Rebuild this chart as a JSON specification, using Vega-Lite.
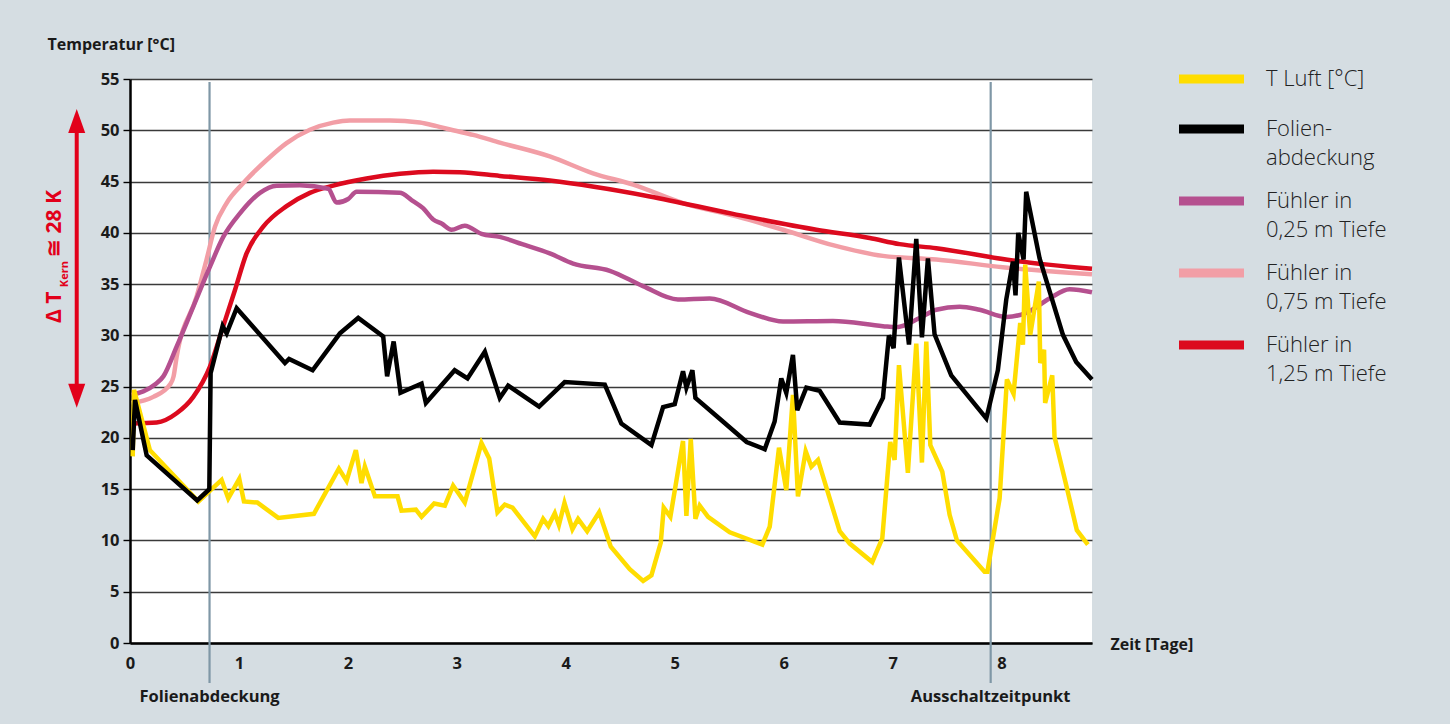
{
  "$schema": "https://vega.github.io/schema/vega-lite/v6.json",
  "width": 962,
  "height": 564,
  "autosize": {"type": "none"},
  "padding": {"left": 130, "top": 79, "right": 358, "bottom": 81},
  "background": "#d5dde2",
  "config": {
    "view": {"fill": "white", "stroke": null},
    "font": "Open Sans",
    "axisY": {
      "domainColor": "#000000", "domainWidth": 2.5,
      "tickColor": "#000000", "tickSize": 7, "tickWidth": 1.4,
      "grid": true, "gridColor": "#3a3a3a", "gridWidth": 1.3,
      "labelFont": "Open Sans", "labelFontWeight": "bold", "labelFontSize": 16.5, "labelColor": "#1a1a1a", "labelPadding": 4,
      "titleFont": "Open Sans", "titleFontWeight": "bold", "titleFontSize": 16, "titleColor": "#1a1a1a"
    },
    "axisX": {
      "domainColor": "#000000", "domainWidth": 2.5, "ticks": false, "grid": false, "format": "d",
      "labelFont": "Open Sans", "labelFontWeight": "bold", "labelFontSize": 16.5, "labelColor": "#1a1a1a", "labelPadding": 12,
      "titleFont": "Open Sans", "titleFontWeight": "bold", "titleFontSize": 16, "titleColor": "#1a1a1a"
    }
  },
  "datasets": {
    "events": [
      {"Tag": 0.73, "Ereignis": "Folienabdeckung"},
      {"Tag": 7.9, "Ereignis": "Ausschaltzeitpunkt"}
    ],
    "anno": [{"Text": "Δ T Kern ≅ 28 K"}],
    "temps": [
      {"Reihe": "T Luft [°C]", "Tag": 0.025, "Temp": 18.2},
      {"Reihe": "T Luft [°C]", "Tag": 0.037, "Temp": 24.7},
      {"Reihe": "T Luft [°C]", "Tag": 0.183, "Temp": 18.8},
      {"Reihe": "T Luft [°C]", "Tag": 0.627, "Temp": 13.8},
      {"Reihe": "T Luft [°C]", "Tag": 0.841, "Temp": 15.9},
      {"Reihe": "T Luft [°C]", "Tag": 0.902, "Temp": 14.1},
      {"Reihe": "T Luft [°C]", "Tag": 1.003, "Temp": 16.0},
      {"Reihe": "T Luft [°C]", "Tag": 1.046, "Temp": 13.8},
      {"Reihe": "T Luft [°C]", "Tag": 1.168, "Temp": 13.7},
      {"Reihe": "T Luft [°C]", "Tag": 1.361, "Temp": 12.2},
      {"Reihe": "T Luft [°C]", "Tag": 1.688, "Temp": 12.6},
      {"Reihe": "T Luft [°C]", "Tag": 1.917, "Temp": 17.0},
      {"Reihe": "T Luft [°C]", "Tag": 1.988, "Temp": 15.8},
      {"Reihe": "T Luft [°C]", "Tag": 2.073, "Temp": 18.8},
      {"Reihe": "T Luft [°C]", "Tag": 2.125, "Temp": 15.6},
      {"Reihe": "T Luft [°C]", "Tag": 2.156, "Temp": 17.2},
      {"Reihe": "T Luft [°C]", "Tag": 2.248, "Temp": 14.3},
      {"Reihe": "T Luft [°C]", "Tag": 2.456, "Temp": 14.3},
      {"Reihe": "T Luft [°C]", "Tag": 2.492, "Temp": 12.9},
      {"Reihe": "T Luft [°C]", "Tag": 2.624, "Temp": 13.0},
      {"Reihe": "T Luft [°C]", "Tag": 2.676, "Temp": 12.3},
      {"Reihe": "T Luft [°C]", "Tag": 2.792, "Temp": 13.6},
      {"Reihe": "T Luft [°C]", "Tag": 2.89, "Temp": 13.4},
      {"Reihe": "T Luft [°C]", "Tag": 2.966, "Temp": 15.35},
      {"Reihe": "T Luft [°C]", "Tag": 3.073, "Temp": 13.7},
      {"Reihe": "T Luft [°C]", "Tag": 3.226, "Temp": 19.5},
      {"Reihe": "T Luft [°C]", "Tag": 3.297, "Temp": 18.0},
      {"Reihe": "T Luft [°C]", "Tag": 3.373, "Temp": 12.75},
      {"Reihe": "T Luft [°C]", "Tag": 3.44, "Temp": 13.5},
      {"Reihe": "T Luft [°C]", "Tag": 3.511, "Temp": 13.2},
      {"Reihe": "T Luft [°C]", "Tag": 3.716, "Temp": 10.4},
      {"Reihe": "T Luft [°C]", "Tag": 3.792, "Temp": 12.1},
      {"Reihe": "T Luft [°C]", "Tag": 3.84, "Temp": 11.4},
      {"Reihe": "T Luft [°C]", "Tag": 3.899, "Temp": 12.65},
      {"Reihe": "T Luft [°C]", "Tag": 3.937, "Temp": 11.5},
      {"Reihe": "T Luft [°C]", "Tag": 3.988, "Temp": 13.65},
      {"Reihe": "T Luft [°C]", "Tag": 4.061, "Temp": 11.1},
      {"Reihe": "T Luft [°C]", "Tag": 4.113, "Temp": 12.1},
      {"Reihe": "T Luft [°C]", "Tag": 4.196, "Temp": 10.9},
      {"Reihe": "T Luft [°C]", "Tag": 4.306, "Temp": 12.75},
      {"Reihe": "T Luft [°C]", "Tag": 4.413, "Temp": 9.4},
      {"Reihe": "T Luft [°C]", "Tag": 4.587, "Temp": 7.2},
      {"Reihe": "T Luft [°C]", "Tag": 4.71, "Temp": 6.05},
      {"Reihe": "T Luft [°C]", "Tag": 4.786, "Temp": 6.6},
      {"Reihe": "T Luft [°C]", "Tag": 4.872, "Temp": 9.8},
      {"Reihe": "T Luft [°C]", "Tag": 4.899, "Temp": 13.2},
      {"Reihe": "T Luft [°C]", "Tag": 4.96, "Temp": 12.3},
      {"Reihe": "T Luft [°C]", "Tag": 5.076, "Temp": 19.7},
      {"Reihe": "T Luft [°C]", "Tag": 5.107, "Temp": 12.4},
      {"Reihe": "T Luft [°C]", "Tag": 5.147, "Temp": 19.9},
      {"Reihe": "T Luft [°C]", "Tag": 5.19, "Temp": 12.1},
      {"Reihe": "T Luft [°C]", "Tag": 5.229, "Temp": 13.4},
      {"Reihe": "T Luft [°C]", "Tag": 5.306, "Temp": 12.3},
      {"Reihe": "T Luft [°C]", "Tag": 5.505, "Temp": 10.8},
      {"Reihe": "T Luft [°C]", "Tag": 5.804, "Temp": 9.6},
      {"Reihe": "T Luft [°C]", "Tag": 5.872, "Temp": 11.35},
      {"Reihe": "T Luft [°C]", "Tag": 5.957, "Temp": 19.05},
      {"Reihe": "T Luft [°C]", "Tag": 6.024, "Temp": 14.9},
      {"Reihe": "T Luft [°C]", "Tag": 6.085, "Temp": 24.2},
      {"Reihe": "T Luft [°C]", "Tag": 6.131, "Temp": 14.3},
      {"Reihe": "T Luft [°C]", "Tag": 6.202, "Temp": 18.7},
      {"Reihe": "T Luft [°C]", "Tag": 6.254, "Temp": 17.2},
      {"Reihe": "T Luft [°C]", "Tag": 6.315, "Temp": 17.85},
      {"Reihe": "T Luft [°C]", "Tag": 6.514, "Temp": 10.9},
      {"Reihe": "T Luft [°C]", "Tag": 6.606, "Temp": 9.7},
      {"Reihe": "T Luft [°C]", "Tag": 6.813, "Temp": 7.9},
      {"Reihe": "T Luft [°C]", "Tag": 6.905, "Temp": 10.2},
      {"Reihe": "T Luft [°C]", "Tag": 6.978, "Temp": 19.6},
      {"Reihe": "T Luft [°C]", "Tag": 7.018, "Temp": 17.85},
      {"Reihe": "T Luft [°C]", "Tag": 7.058, "Temp": 27.1},
      {"Reihe": "T Luft [°C]", "Tag": 7.14, "Temp": 16.6},
      {"Reihe": "T Luft [°C]", "Tag": 7.217, "Temp": 29.2},
      {"Reihe": "T Luft [°C]", "Tag": 7.269, "Temp": 17.6},
      {"Reihe": "T Luft [°C]", "Tag": 7.309, "Temp": 29.4},
      {"Reihe": "T Luft [°C]", "Tag": 7.346, "Temp": 19.3},
      {"Reihe": "T Luft [°C]", "Tag": 7.456, "Temp": 16.7},
      {"Reihe": "T Luft [°C]", "Tag": 7.523, "Temp": 12.5},
      {"Reihe": "T Luft [°C]", "Tag": 7.59, "Temp": 10.0},
      {"Reihe": "T Luft [°C]", "Tag": 7.844, "Temp": 6.95},
      {"Reihe": "T Luft [°C]", "Tag": 7.87, "Temp": 6.95},
      {"Reihe": "T Luft [°C]", "Tag": 7.982, "Temp": 14.1},
      {"Reihe": "T Luft [°C]", "Tag": 8.049, "Temp": 25.7},
      {"Reihe": "T Luft [°C]", "Tag": 8.11, "Temp": 24.3},
      {"Reihe": "T Luft [°C]", "Tag": 8.171, "Temp": 31.2},
      {"Reihe": "T Luft [°C]", "Tag": 8.196, "Temp": 29.1},
      {"Reihe": "T Luft [°C]", "Tag": 8.217, "Temp": 36.9},
      {"Reihe": "T Luft [°C]", "Tag": 8.263, "Temp": 30.05},
      {"Reihe": "T Luft [°C]", "Tag": 8.342, "Temp": 35.25},
      {"Reihe": "T Luft [°C]", "Tag": 8.355, "Temp": 27.3},
      {"Reihe": "T Luft [°C]", "Tag": 8.39, "Temp": 28.6},
      {"Reihe": "T Luft [°C]", "Tag": 8.40, "Temp": 23.4},
      {"Reihe": "T Luft [°C]", "Tag": 8.465, "Temp": 26.1},
      {"Reihe": "T Luft [°C]", "Tag": 8.486, "Temp": 20.1},
      {"Reihe": "T Luft [°C]", "Tag": 8.593, "Temp": 15.4},
      {"Reihe": "T Luft [°C]", "Tag": 8.691, "Temp": 11.0},
      {"Reihe": "T Luft [°C]", "Tag": 8.792, "Temp": 9.6},

      {"Reihe": "Folienabdeckung", "Tag": 0.025, "Temp": 18.8},
      {"Reihe": "Folienabdeckung", "Tag": 0.046, "Temp": 23.7},
      {"Reihe": "Folienabdeckung", "Tag": 0.153, "Temp": 18.3},
      {"Reihe": "Folienabdeckung", "Tag": 0.617, "Temp": 13.9},
      {"Reihe": "Folienabdeckung", "Tag": 0.728, "Temp": 15.0},
      {"Reihe": "Folienabdeckung", "Tag": 0.74, "Temp": 26.3},
      {"Reihe": "Folienabdeckung", "Tag": 0.85, "Temp": 30.9},
      {"Reihe": "Folienabdeckung", "Tag": 0.887, "Temp": 30.2},
      {"Reihe": "Folienabdeckung", "Tag": 0.979, "Temp": 32.65},
      {"Reihe": "Folienabdeckung", "Tag": 1.422, "Temp": 27.3},
      {"Reihe": "Folienabdeckung", "Tag": 1.46, "Temp": 27.7},
      {"Reihe": "Folienabdeckung", "Tag": 1.676, "Temp": 26.6},
      {"Reihe": "Folienabdeckung", "Tag": 1.927, "Temp": 30.2},
      {"Reihe": "Folienabdeckung", "Tag": 2.095, "Temp": 31.7},
      {"Reihe": "Folienabdeckung", "Tag": 2.324, "Temp": 29.9},
      {"Reihe": "Folienabdeckung", "Tag": 2.36, "Temp": 26.0},
      {"Reihe": "Folienabdeckung", "Tag": 2.42, "Temp": 29.4},
      {"Reihe": "Folienabdeckung", "Tag": 2.483, "Temp": 24.4},
      {"Reihe": "Folienabdeckung", "Tag": 2.676, "Temp": 25.3},
      {"Reihe": "Folienabdeckung", "Tag": 2.716, "Temp": 23.4},
      {"Reihe": "Folienabdeckung", "Tag": 2.98, "Temp": 26.6},
      {"Reihe": "Folienabdeckung", "Tag": 3.098, "Temp": 25.8},
      {"Reihe": "Folienabdeckung", "Tag": 3.257, "Temp": 28.4},
      {"Reihe": "Folienabdeckung", "Tag": 3.394, "Temp": 23.9},
      {"Reihe": "Folienabdeckung", "Tag": 3.471, "Temp": 25.1},
      {"Reihe": "Folienabdeckung", "Tag": 3.755, "Temp": 23.05},
      {"Reihe": "Folienabdeckung", "Tag": 3.99, "Temp": 25.45},
      {"Reihe": "Folienabdeckung", "Tag": 4.358, "Temp": 25.2},
      {"Reihe": "Folienabdeckung", "Tag": 4.51, "Temp": 21.4},
      {"Reihe": "Folienabdeckung", "Tag": 4.786, "Temp": 19.3},
      {"Reihe": "Folienabdeckung", "Tag": 4.893, "Temp": 23.0},
      {"Reihe": "Folienabdeckung", "Tag": 5.0, "Temp": 23.3},
      {"Reihe": "Folienabdeckung", "Tag": 5.076, "Temp": 26.5},
      {"Reihe": "Folienabdeckung", "Tag": 5.107, "Temp": 24.9},
      {"Reihe": "Folienabdeckung", "Tag": 5.162, "Temp": 26.6},
      {"Reihe": "Folienabdeckung", "Tag": 5.19, "Temp": 23.9},
      {"Reihe": "Folienabdeckung", "Tag": 5.41, "Temp": 21.9},
      {"Reihe": "Folienabdeckung", "Tag": 5.66, "Temp": 19.6},
      {"Reihe": "Folienabdeckung", "Tag": 5.826, "Temp": 18.9},
      {"Reihe": "Folienabdeckung", "Tag": 5.917, "Temp": 21.6},
      {"Reihe": "Folienabdeckung", "Tag": 5.978, "Temp": 25.8},
      {"Reihe": "Folienabdeckung", "Tag": 6.024, "Temp": 24.4},
      {"Reihe": "Folienabdeckung", "Tag": 6.085, "Temp": 28.1},
      {"Reihe": "Folienabdeckung", "Tag": 6.125, "Temp": 22.7},
      {"Reihe": "Folienabdeckung", "Tag": 6.208, "Temp": 24.9},
      {"Reihe": "Folienabdeckung", "Tag": 6.33, "Temp": 24.6},
      {"Reihe": "Folienabdeckung", "Tag": 6.514, "Temp": 21.5},
      {"Reihe": "Folienabdeckung", "Tag": 6.789, "Temp": 21.3},
      {"Reihe": "Folienabdeckung", "Tag": 6.911, "Temp": 23.9},
      {"Reihe": "Folienabdeckung", "Tag": 6.966, "Temp": 30.0},
      {"Reihe": "Folienabdeckung", "Tag": 7.009, "Temp": 28.75},
      {"Reihe": "Folienabdeckung", "Tag": 7.058, "Temp": 37.6},
      {"Reihe": "Folienabdeckung", "Tag": 7.15, "Temp": 29.1},
      {"Reihe": "Folienabdeckung", "Tag": 7.217, "Temp": 39.4},
      {"Reihe": "Folienabdeckung", "Tag": 7.269, "Temp": 29.8},
      {"Reihe": "Folienabdeckung", "Tag": 7.324, "Temp": 37.5},
      {"Reihe": "Folienabdeckung", "Tag": 7.385, "Temp": 30.1},
      {"Reihe": "Folienabdeckung", "Tag": 7.538, "Temp": 26.1},
      {"Reihe": "Folienabdeckung", "Tag": 7.86, "Temp": 21.9},
      {"Reihe": "Folienabdeckung", "Tag": 7.966, "Temp": 26.6},
      {"Reihe": "Folienabdeckung", "Tag": 8.043, "Temp": 33.5},
      {"Reihe": "Folienabdeckung", "Tag": 8.104, "Temp": 37.2},
      {"Reihe": "Folienabdeckung", "Tag": 8.128, "Temp": 33.9},
      {"Reihe": "Folienabdeckung", "Tag": 8.153, "Temp": 40.0},
      {"Reihe": "Folienabdeckung", "Tag": 8.202, "Temp": 37.4},
      {"Reihe": "Folienabdeckung", "Tag": 8.226, "Temp": 44.0},
      {"Reihe": "Folienabdeckung", "Tag": 8.349, "Temp": 37.5},
      {"Reihe": "Folienabdeckung", "Tag": 8.563, "Temp": 30.05},
      {"Reihe": "Folienabdeckung", "Tag": 8.685, "Temp": 27.4},
      {"Reihe": "Folienabdeckung", "Tag": 8.83, "Temp": 25.7},

      {"Reihe": "Fühler in 0,25 m Tiefe", "Tag": 0.015, "Temp": 24.2},
      {"Reihe": "Fühler in 0,25 m Tiefe", "Tag": 0.229, "Temp": 25.2},
      {"Reihe": "Fühler in 0,25 m Tiefe", "Tag": 0.306, "Temp": 26.0},
      {"Reihe": "Fühler in 0,25 m Tiefe", "Tag": 0.428, "Temp": 28.9},
      {"Reihe": "Fühler in 0,25 m Tiefe", "Tag": 0.581, "Temp": 32.8},
      {"Reihe": "Fühler in 0,25 m Tiefe", "Tag": 0.734, "Temp": 36.7},
      {"Reihe": "Fühler in 0,25 m Tiefe", "Tag": 0.856, "Temp": 39.6},
      {"Reihe": "Fühler in 0,25 m Tiefe", "Tag": 1.009, "Temp": 41.9},
      {"Reihe": "Fühler in 0,25 m Tiefe", "Tag": 1.193, "Temp": 43.9},
      {"Reihe": "Fühler in 0,25 m Tiefe", "Tag": 1.346, "Temp": 44.6},
      {"Reihe": "Fühler in 0,25 m Tiefe", "Tag": 1.56, "Temp": 44.65},
      {"Reihe": "Fühler in 0,25 m Tiefe", "Tag": 1.82, "Temp": 44.3},
      {"Reihe": "Fühler in 0,25 m Tiefe", "Tag": 1.896, "Temp": 42.95},
      {"Reihe": "Fühler in 0,25 m Tiefe", "Tag": 2.003, "Temp": 43.3},
      {"Reihe": "Fühler in 0,25 m Tiefe", "Tag": 2.08, "Temp": 44.0},
      {"Reihe": "Fühler in 0,25 m Tiefe", "Tag": 2.477, "Temp": 43.9},
      {"Reihe": "Fühler in 0,25 m Tiefe", "Tag": 2.584, "Temp": 43.2},
      {"Reihe": "Fühler in 0,25 m Tiefe", "Tag": 2.69, "Temp": 42.4},
      {"Reihe": "Fühler in 0,25 m Tiefe", "Tag": 2.783, "Temp": 41.3},
      {"Reihe": "Fühler in 0,25 m Tiefe", "Tag": 2.86, "Temp": 40.9},
      {"Reihe": "Fühler in 0,25 m Tiefe", "Tag": 2.951, "Temp": 40.3},
      {"Reihe": "Fühler in 0,25 m Tiefe", "Tag": 3.073, "Temp": 40.7},
      {"Reihe": "Fühler in 0,25 m Tiefe", "Tag": 3.226, "Temp": 39.9},
      {"Reihe": "Fühler in 0,25 m Tiefe", "Tag": 3.394, "Temp": 39.6},
      {"Reihe": "Fühler in 0,25 m Tiefe", "Tag": 3.6, "Temp": 38.9},
      {"Reihe": "Fühler in 0,25 m Tiefe", "Tag": 3.853, "Temp": 38.0},
      {"Reihe": "Fühler in 0,25 m Tiefe", "Tag": 4.067, "Temp": 37.0},
      {"Reihe": "Fühler in 0,25 m Tiefe", "Tag": 4.404, "Temp": 36.3},
      {"Reihe": "Fühler in 0,25 m Tiefe", "Tag": 4.709, "Temp": 34.8},
      {"Reihe": "Fühler in 0,25 m Tiefe", "Tag": 5.03, "Temp": 33.5},
      {"Reihe": "Fühler in 0,25 m Tiefe", "Tag": 5.321, "Temp": 33.6},
      {"Reihe": "Fühler in 0,25 m Tiefe", "Tag": 5.688, "Temp": 32.2},
      {"Reihe": "Fühler in 0,25 m Tiefe", "Tag": 5.994, "Temp": 31.35},
      {"Reihe": "Fühler in 0,25 m Tiefe", "Tag": 6.452, "Temp": 31.4},
      {"Reihe": "Fühler in 0,25 m Tiefe", "Tag": 6.911, "Temp": 30.9},
      {"Reihe": "Fühler in 0,25 m Tiefe", "Tag": 7.034, "Temp": 30.8},
      {"Reihe": "Fühler in 0,25 m Tiefe", "Tag": 7.248, "Temp": 31.7},
      {"Reihe": "Fühler in 0,25 m Tiefe", "Tag": 7.4, "Temp": 32.5},
      {"Reihe": "Fühler in 0,25 m Tiefe", "Tag": 7.615, "Temp": 32.8},
      {"Reihe": "Fühler in 0,25 m Tiefe", "Tag": 7.798, "Temp": 32.5},
      {"Reihe": "Fühler in 0,25 m Tiefe", "Tag": 8.043, "Temp": 31.8},
      {"Reihe": "Fühler in 0,25 m Tiefe", "Tag": 8.226, "Temp": 32.2},
      {"Reihe": "Fühler in 0,25 m Tiefe", "Tag": 8.44, "Temp": 33.6},
      {"Reihe": "Fühler in 0,25 m Tiefe", "Tag": 8.624, "Temp": 34.5},
      {"Reihe": "Fühler in 0,25 m Tiefe", "Tag": 8.83, "Temp": 34.2},

      {"Reihe": "Fühler in 0,75 m Tiefe", "Tag": 0.015, "Temp": 23.4},
      {"Reihe": "Fühler in 0,75 m Tiefe", "Tag": 0.214, "Temp": 24.0},
      {"Reihe": "Fühler in 0,75 m Tiefe", "Tag": 0.367, "Temp": 25.2},
      {"Reihe": "Fühler in 0,75 m Tiefe", "Tag": 0.4, "Temp": 26.0},
      {"Reihe": "Fühler in 0,75 m Tiefe", "Tag": 0.428, "Temp": 27.9},
      {"Reihe": "Fühler in 0,75 m Tiefe", "Tag": 0.612, "Temp": 33.8},
      {"Reihe": "Fühler in 0,75 m Tiefe", "Tag": 0.703, "Temp": 37.4},
      {"Reihe": "Fühler in 0,75 m Tiefe", "Tag": 0.78, "Temp": 40.6},
      {"Reihe": "Fühler in 0,75 m Tiefe", "Tag": 0.887, "Temp": 42.9},
      {"Reihe": "Fühler in 0,75 m Tiefe", "Tag": 1.04, "Temp": 44.85},
      {"Reihe": "Fühler in 0,75 m Tiefe", "Tag": 1.254, "Temp": 47.1},
      {"Reihe": "Fühler in 0,75 m Tiefe", "Tag": 1.437, "Temp": 48.75},
      {"Reihe": "Fühler in 0,75 m Tiefe", "Tag": 1.651, "Temp": 50.05},
      {"Reihe": "Fühler in 0,75 m Tiefe", "Tag": 1.865, "Temp": 50.75},
      {"Reihe": "Fühler in 0,75 m Tiefe", "Tag": 2.018, "Temp": 50.95},
      {"Reihe": "Fühler in 0,75 m Tiefe", "Tag": 2.385, "Temp": 50.95},
      {"Reihe": "Fühler in 0,75 m Tiefe", "Tag": 2.66, "Temp": 50.75},
      {"Reihe": "Fühler in 0,75 m Tiefe", "Tag": 2.814, "Temp": 50.4},
      {"Reihe": "Fühler in 0,75 m Tiefe", "Tag": 2.966, "Temp": 50.0},
      {"Reihe": "Fühler in 0,75 m Tiefe", "Tag": 3.15, "Temp": 49.55},
      {"Reihe": "Fühler in 0,75 m Tiefe", "Tag": 3.394, "Temp": 48.8},
      {"Reihe": "Fühler in 0,75 m Tiefe", "Tag": 3.853, "Temp": 47.45},
      {"Reihe": "Fühler in 0,75 m Tiefe", "Tag": 4.25, "Temp": 45.8},
      {"Reihe": "Fühler in 0,75 m Tiefe", "Tag": 4.618, "Temp": 44.7},
      {"Reihe": "Fühler in 0,75 m Tiefe", "Tag": 5.076, "Temp": 42.9},
      {"Reihe": "Fühler in 0,75 m Tiefe", "Tag": 5.566, "Temp": 41.6},
      {"Reihe": "Fühler in 0,75 m Tiefe", "Tag": 5.994, "Temp": 40.3},
      {"Reihe": "Fühler in 0,75 m Tiefe", "Tag": 6.452, "Temp": 38.8},
      {"Reihe": "Fühler in 0,75 m Tiefe", "Tag": 6.911, "Temp": 37.75},
      {"Reihe": "Fühler in 0,75 m Tiefe", "Tag": 7.4, "Temp": 37.4},
      {"Reihe": "Fühler in 0,75 m Tiefe", "Tag": 8.01, "Temp": 36.65},
      {"Reihe": "Fühler in 0,75 m Tiefe", "Tag": 8.83, "Temp": 35.95},

      {"Reihe": "Fühler in 1,25 m Tiefe", "Tag": 0.015, "Temp": 21.4},
      {"Reihe": "Fühler in 1,25 m Tiefe", "Tag": 0.245, "Temp": 21.5},
      {"Reihe": "Fühler in 1,25 m Tiefe", "Tag": 0.428, "Temp": 22.4},
      {"Reihe": "Fühler in 1,25 m Tiefe", "Tag": 0.581, "Temp": 24.0},
      {"Reihe": "Fühler in 1,25 m Tiefe", "Tag": 0.734, "Temp": 26.95},
      {"Reihe": "Fühler in 1,25 m Tiefe", "Tag": 0.856, "Temp": 30.9},
      {"Reihe": "Fühler in 1,25 m Tiefe", "Tag": 0.963, "Temp": 34.4},
      {"Reihe": "Fühler in 1,25 m Tiefe", "Tag": 1.07, "Temp": 38.0},
      {"Reihe": "Fühler in 1,25 m Tiefe", "Tag": 1.223, "Temp": 40.6},
      {"Reihe": "Fühler in 1,25 m Tiefe", "Tag": 1.437, "Temp": 42.6},
      {"Reihe": "Fühler in 1,25 m Tiefe", "Tag": 1.651, "Temp": 43.9},
      {"Reihe": "Fühler in 1,25 m Tiefe", "Tag": 1.865, "Temp": 44.6},
      {"Reihe": "Fühler in 1,25 m Tiefe", "Tag": 2.171, "Temp": 45.3},
      {"Reihe": "Fühler in 1,25 m Tiefe", "Tag": 2.477, "Temp": 45.75},
      {"Reihe": "Fühler in 1,25 m Tiefe", "Tag": 2.783, "Temp": 45.95},
      {"Reihe": "Fühler in 1,25 m Tiefe", "Tag": 3.028, "Temp": 45.9},
      {"Reihe": "Fühler in 1,25 m Tiefe", "Tag": 3.394, "Temp": 45.55},
      {"Reihe": "Fühler in 1,25 m Tiefe", "Tag": 3.853, "Temp": 45.1},
      {"Reihe": "Fühler in 1,25 m Tiefe", "Tag": 4.771, "Temp": 43.55},
      {"Reihe": "Fühler in 1,25 m Tiefe", "Tag": 5.535, "Temp": 41.85},
      {"Reihe": "Fühler in 1,25 m Tiefe", "Tag": 6.3, "Temp": 40.3},
      {"Reihe": "Fühler in 1,25 m Tiefe", "Tag": 6.789, "Temp": 39.5},
      {"Reihe": "Fühler in 1,25 m Tiefe", "Tag": 7.064, "Temp": 38.9},
      {"Reihe": "Fühler in 1,25 m Tiefe", "Tag": 7.4, "Temp": 38.5},
      {"Reihe": "Fühler in 1,25 m Tiefe", "Tag": 8.104, "Temp": 37.3},
      {"Reihe": "Fühler in 1,25 m Tiefe", "Tag": 8.83, "Temp": 36.5}
    ]
  },
  "layer": [
    {
      "data": {"name": "events"},
      "mark": {"type": "rule", "color": "#7f97a6", "strokeWidth": 2.2},
      "encoding": {
        "x": {"field": "Tag", "type": "quantitative", "scale": {"domain": [0, 8.83], "nice": false, "zero": false},
              "axis": {"values": [0, 1, 2, 3, 4, 5, 6, 7, 8], "title": "Zeit [Tage]", "titleX": 980, "titleY": 1, "titleAlign": "left", "titleBaseline": "middle", "labelFlush": false}},
        "y": {"datum": 54.7, "type": "quantitative", "scale": {"domain": [0, 55], "nice": false},
              "axis": {"values": [0, 5, 10, 15, 20, 25, 30, 35, 40, 45, 50, 55], "title": "Temperatur [°C]", "titleAngle": 0, "titleX": -83, "titleY": -35, "titleAlign": "left", "titleBaseline": "middle"}},
        "y2": {"datum": -3.9}
      }
    },
    {
      "data": {"name": "temps"},
      "transform": [{"filter": "datum.Reihe == 'Fühler in 1,25 m Tiefe' || datum.Reihe == 'Fühler in 0,75 m Tiefe'"}],
      "mark": {"type": "line", "strokeWidth": 4.5, "interpolate": "monotone"},
      "encoding": {
        "x": {"field": "Tag", "type": "quantitative", "scale": {"domain": [0, 8.83], "nice": false, "zero": false},
              "axis": {"values": [0, 1, 2, 3, 4, 5, 6, 7, 8], "title": "Zeit [Tage]", "titleX": 980, "titleY": 1, "titleAlign": "left", "titleBaseline": "middle", "labelFlush": false}},
        "y": {"field": "Temp", "type": "quantitative", "scale": {"domain": [0, 55], "nice": false},
              "axis": {"values": [0, 5, 10, 15, 20, 25, 30, 35, 40, 45, 50, 55], "title": "Temperatur [°C]", "titleAngle": 0, "titleX": -83, "titleY": -35, "titleAlign": "left", "titleBaseline": "middle"}},
        "detail": {"field": "Reihe"},
        "color": {"field": "Reihe", "type": "nominal",
          "scale": {"domain": ["T Luft [°C]", "Folienabdeckung", "Fühler in 0,25 m Tiefe", "Fühler in 0,75 m Tiefe", "Fühler in 1,25 m Tiefe"],
                    "range": ["#ffdd00", "#000000", "#b5508f", "#f29ea6", "#dc0a1e"]},
          "legend": {
            "orient": "none", "legendX": 1048, "legendY": -11, "title": null,
            "symbolType": "M-2,0H11", "symbolSize": 100, "symbolStrokeWidth": 9,
            "labelFont": "Open Sans", "labelFontSize": 22, "labelFontWeight": 300, "labelColor": "#222222",
            "labelOffset": 66, "labelLimit": 300, "rowPadding": 14,
            "labelExpr": "datum.label == 'Folienabdeckung' ? ['Folien-', 'abdeckung'] : slice(datum.label, 0, 9) == 'Fühler in' ? ['Fühler in', slice(datum.label, 10)] : datum.label",
            "encode": {"labels": {"update": {"lineHeight": {"value": 29}}}}
          }}
      }
    },
    {
      "data": {"name": "temps"},
      "transform": [{"filter": "datum.Reihe == 'Fühler in 0,25 m Tiefe'"}],
      "mark": {"type": "line", "strokeWidth": 4.5, "interpolate": "monotone"},
      "encoding": {
        "x": {"field": "Tag", "type": "quantitative", "scale": {"domain": [0, 8.83], "nice": false, "zero": false},
              "axis": {"values": [0, 1, 2, 3, 4, 5, 6, 7, 8], "title": "Zeit [Tage]", "titleX": 980, "titleY": 1, "titleAlign": "left", "titleBaseline": "middle", "labelFlush": false}},
        "y": {"field": "Temp", "type": "quantitative", "scale": {"domain": [0, 55], "nice": false},
              "axis": {"values": [0, 5, 10, 15, 20, 25, 30, 35, 40, 45, 50, 55], "title": "Temperatur [°C]", "titleAngle": 0, "titleX": -83, "titleY": -35, "titleAlign": "left", "titleBaseline": "middle"}},
        "color": {"field": "Reihe", "type": "nominal", "legend": null,
          "scale": {"domain": ["T Luft [°C]", "Folienabdeckung", "Fühler in 0,25 m Tiefe", "Fühler in 0,75 m Tiefe", "Fühler in 1,25 m Tiefe"],
                    "range": ["#ffdd00", "#000000", "#b5508f", "#f29ea6", "#dc0a1e"]}}
      }
    },
    {
      "data": {"name": "temps"},
      "transform": [{"filter": "datum.Reihe == 'T Luft [°C]'"}],
      "mark": {"type": "line", "strokeWidth": 4.5},
      "encoding": {
        "x": {"field": "Tag", "type": "quantitative", "scale": {"domain": [0, 8.83], "nice": false, "zero": false},
              "axis": {"values": [0, 1, 2, 3, 4, 5, 6, 7, 8], "title": "Zeit [Tage]", "titleX": 980, "titleY": 1, "titleAlign": "left", "titleBaseline": "middle", "labelFlush": false}},
        "y": {"field": "Temp", "type": "quantitative", "scale": {"domain": [0, 55], "nice": false},
              "axis": {"values": [0, 5, 10, 15, 20, 25, 30, 35, 40, 45, 50, 55], "title": "Temperatur [°C]", "titleAngle": 0, "titleX": -83, "titleY": -35, "titleAlign": "left", "titleBaseline": "middle"}},
        "color": {"field": "Reihe", "type": "nominal", "legend": null,
          "scale": {"domain": ["T Luft [°C]", "Folienabdeckung", "Fühler in 0,25 m Tiefe", "Fühler in 0,75 m Tiefe", "Fühler in 1,25 m Tiefe"],
                    "range": ["#ffdd00", "#000000", "#b5508f", "#f29ea6", "#dc0a1e"]}}
      }
    },
    {
      "data": {"name": "temps"},
      "transform": [{"filter": "datum.Reihe == 'Folienabdeckung'"}],
      "mark": {"type": "line", "strokeWidth": 4.5},
      "encoding": {
        "x": {"field": "Tag", "type": "quantitative", "scale": {"domain": [0, 8.83], "nice": false, "zero": false},
              "axis": {"values": [0, 1, 2, 3, 4, 5, 6, 7, 8], "title": "Zeit [Tage]", "titleX": 980, "titleY": 1, "titleAlign": "left", "titleBaseline": "middle", "labelFlush": false}},
        "y": {"field": "Temp", "type": "quantitative", "scale": {"domain": [0, 55], "nice": false},
              "axis": {"values": [0, 5, 10, 15, 20, 25, 30, 35, 40, 45, 50, 55], "title": "Temperatur [°C]", "titleAngle": 0, "titleX": -83, "titleY": -35, "titleAlign": "left", "titleBaseline": "middle"}},
        "color": {"field": "Reihe", "type": "nominal", "legend": null,
          "scale": {"domain": ["T Luft [°C]", "Folienabdeckung", "Fühler in 0,25 m Tiefe", "Fühler in 0,75 m Tiefe", "Fühler in 1,25 m Tiefe"],
                    "range": ["#ffdd00", "#000000", "#b5508f", "#f29ea6", "#dc0a1e"]}}
      }
    },
    {
      "data": {"name": "events"},
      "mark": {"type": "text", "font": "Open Sans", "fontWeight": "bold", "fontSize": 16.5, "color": "#1a1a1a", "baseline": "middle", "align": "center"},
      "encoding": {
        "x": {"field": "Tag", "type": "quantitative", "scale": {"domain": [0, 8.83], "nice": false, "zero": false},
              "axis": {"values": [0, 1, 2, 3, 4, 5, 6, 7, 8], "title": "Zeit [Tage]", "titleX": 980, "titleY": 1, "titleAlign": "left", "titleBaseline": "middle", "labelFlush": false}},
        "y": {"datum": -5.3, "type": "quantitative", "scale": {"domain": [0, 55], "nice": false},
              "axis": {"values": [0, 5, 10, 15, 20, 25, 30, 35, 40, 45, 50, 55], "title": "Temperatur [°C]", "titleAngle": 0, "titleX": -83, "titleY": -35, "titleAlign": "left", "titleBaseline": "middle"}},
        "text": {"field": "Ereignis"}
      }
    },
    {
      "data": {"name": "anno"},
      "layer": [
        {
          "mark": {"type": "rule", "color": "#e2001a", "strokeWidth": 4},
          "encoding": {"y": {"datum": 25.0, "type": "quantitative"}, "y2": {"datum": 50.2}}
        },
        {
          "mark": {"type": "point", "shape": "M0,-1L0.71,1L-0.71,1Z", "size": 576, "filled": true, "color": "#e2001a", "opacity": 1},
          "encoding": {"y": {"datum": 50.9, "type": "quantitative"}}
        },
        {
          "mark": {"type": "point", "shape": "M0,1L0.71,-1L-0.71,-1Z", "size": 576, "filled": true, "color": "#e2001a", "opacity": 1},
          "encoding": {"y": {"datum": 24.1, "type": "quantitative"}}
        }
      ],
      "encoding": {
        "x": {"datum": -0.489, "type": "quantitative", "scale": {"domain": [0, 8.83], "nice": false, "zero": false},
              "axis": {"values": [0, 1, 2, 3, 4, 5, 6, 7, 8], "title": "Zeit [Tage]", "titleX": 980, "titleY": 1, "titleAlign": "left", "titleBaseline": "middle", "labelFlush": false}}
      }
    },
    {
      "data": {"name": "anno"},
      "layer": [
        {
          "mark": {"type": "text", "text": "Δ T", "angle": 270, "align": "left", "baseline": "middle", "font": "Open Sans", "fontSize": 21, "fontWeight": "bold", "color": "#e2001a"},
          "encoding": {"x": {"datum": -0.69, "type": "quantitative"}, "y": {"datum": 31.2, "type": "quantitative"}}
        },
        {
          "mark": {"type": "text", "text": "Kern", "angle": 270, "align": "left", "baseline": "middle", "font": "Open Sans", "fontSize": 11, "fontWeight": "bold", "color": "#e2001a"},
          "encoding": {"x": {"datum": -0.6, "type": "quantitative"}, "y": {"datum": 34.7, "type": "quantitative"}}
        },
        {
          "mark": {"type": "text", "text": "≅ 28 K", "angle": 270, "align": "left", "baseline": "middle", "font": "Open Sans", "fontSize": 21, "fontWeight": "bold", "color": "#e2001a"},
          "encoding": {"x": {"datum": -0.69, "type": "quantitative"}, "y": {"datum": 37.65, "type": "quantitative"}}
        }
      ]
    }
  ]
}
